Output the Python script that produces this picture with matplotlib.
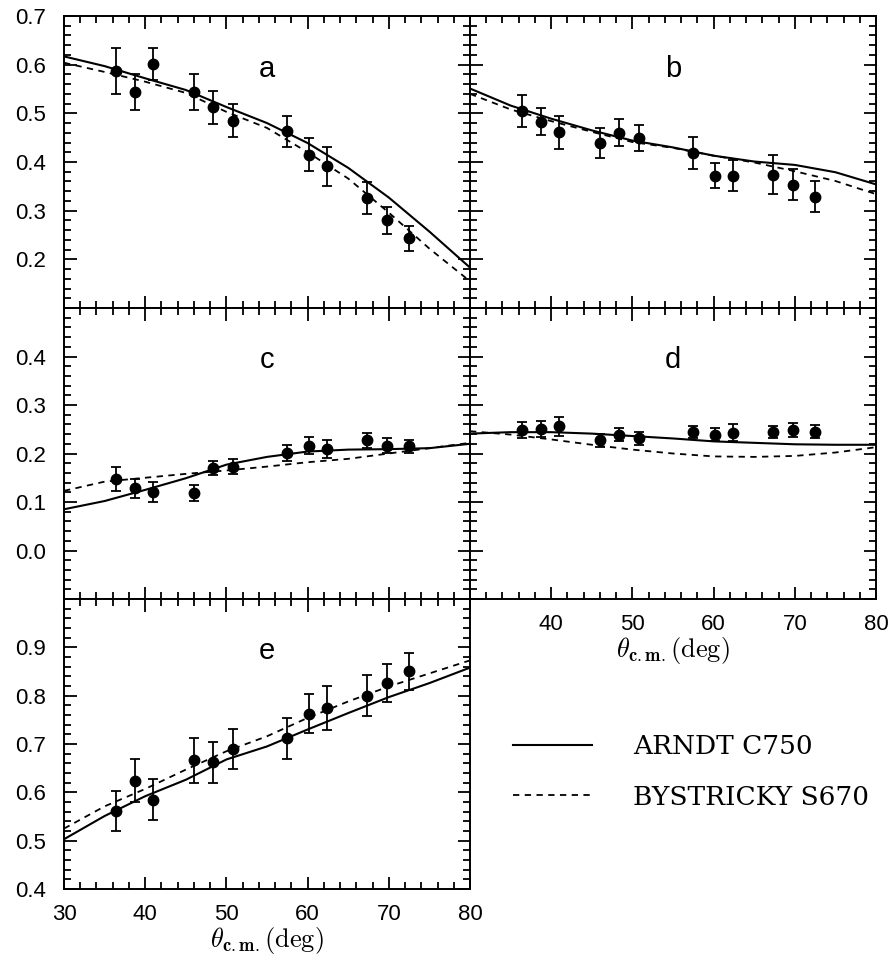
import matplotlib
matplotlib.use("Agg")
import matplotlib.pyplot as plt
from matplotlib.ticker import MultipleLocator, FixedLocator, NullFormatter

plt.rcParams['mathtext.fontset'] = 'cm'

# scattering angle of the data points (same for all panels)
theta = [36.4, 38.8, 41.0, 46.0, 48.4, 50.8, 57.5, 60.2, 62.4, 67.3, 69.8, 72.5]

# measured values and errors
a_val = [0.587, 0.544, 0.601, 0.544, 0.512, 0.485, 0.463, 0.415, 0.391, 0.326, 0.280, 0.243]
a_err = [0.047, 0.037, 0.033, 0.037, 0.033, 0.034, 0.032, 0.034, 0.040, 0.033, 0.028, 0.025]
b_val = [0.504, 0.483, 0.461, 0.439, 0.460, 0.449, 0.418, 0.372, 0.372, 0.374, 0.353, 0.329]
b_err = [0.033, 0.028, 0.034, 0.031, 0.028, 0.027, 0.033, 0.025, 0.032, 0.040, 0.032, 0.032]
c_val = [0.148, 0.128, 0.121, 0.119, 0.170, 0.173, 0.201, 0.216, 0.209, 0.227, 0.216, 0.215]
c_err = [0.025, 0.020, 0.020, 0.016, 0.015, 0.016, 0.016, 0.017, 0.018, 0.016, 0.015, 0.013]
d_val = [0.248, 0.251, 0.256, 0.227, 0.239, 0.231, 0.244, 0.239, 0.243, 0.244, 0.248, 0.245]
d_err = [0.017, 0.016, 0.019, 0.013, 0.013, 0.013, 0.013, 0.013, 0.017, 0.013, 0.014, 0.014]
e_val = [0.561, 0.624, 0.585, 0.666, 0.662, 0.690, 0.712, 0.763, 0.774, 0.800, 0.826, 0.850]
e_err = [0.041, 0.045, 0.043, 0.047, 0.043, 0.041, 0.042, 0.041, 0.045, 0.042, 0.040, 0.038]

# phase shift predictions, sampled every 5 deg
theta_pred = [30, 35, 40, 45, 50, 55, 60, 65, 70, 75, 80]
a_arndt = [0.617, 0.597, 0.572, 0.548, 0.513, 0.480, 0.439, 0.388, 0.327, 0.257, 0.183]
a_byst = [0.604, 0.585, 0.565, 0.542, 0.503, 0.470, 0.420, 0.366, 0.296, 0.222, 0.155]
b_arndt = [0.551, 0.516, 0.489, 0.465, 0.444, 0.430, 0.413, 0.401, 0.394, 0.379, 0.354]
b_byst = [0.540, 0.508, 0.484, 0.462, 0.441, 0.429, 0.413, 0.399, 0.381, 0.361, 0.334]
c_arndt = [0.085, 0.102, 0.125, 0.149, 0.177, 0.193, 0.204, 0.208, 0.209, 0.211, 0.220]
c_byst = [0.123, 0.142, 0.150, 0.158, 0.165, 0.173, 0.182, 0.189, 0.200, 0.211, 0.222]
d_arndt = [0.241, 0.244, 0.244, 0.241, 0.236, 0.231, 0.225, 0.222, 0.219, 0.218, 0.218]
d_byst = [0.246, 0.239, 0.229, 0.218, 0.208, 0.200, 0.194, 0.193, 0.195, 0.202, 0.213]
e_arndt = [0.503, 0.551, 0.592, 0.626, 0.668, 0.695, 0.730, 0.764, 0.797, 0.826, 0.858]
e_byst = [0.525, 0.571, 0.607, 0.647, 0.685, 0.716, 0.754, 0.788, 0.819, 0.846, 0.873]

panel_names = ['a', 'b', 'c', 'd', 'e']
labels = ['ARNDT C750', 'BYSTRICKY S670']

sans = 'Liberation Sans'
serif = 'DejaVu Serif'

fig = plt.figure(figsize=(8.92, 9.55), dpi=100)

W, H = 892, 955
def box(l, t, r, b):
    return [l / W, 1 - b / H, (r - l) / W, (b - t) / H]

boxes = [box(64, 16, 470, 308), box(470, 16, 876, 308),
         box(64, 308, 470, 599), box(470, 308, 876, 599),
         box(64, 599, 470, 889)]
ylims = [(0.1, 0.7), (0.1, 0.7), (-0.1, 0.5), (-0.1, 0.5), (0.4, 1.0)]
yticks = [[0.2, 0.3, 0.4, 0.5, 0.6, 0.7], None,
          [0.0, 0.1, 0.2, 0.3, 0.4], None,
          [0.4, 0.5, 0.6, 0.7, 0.8, 0.9]]
vals = [a_val, b_val, c_val, d_val, e_val]
errs = [a_err, b_err, c_err, d_err, e_err]
arndt = [a_arndt, b_arndt, c_arndt, d_arndt, e_arndt]
byst = [a_byst, b_byst, c_byst, d_byst, e_byst]

handles = []
for i in range(5):
    ax = fig.add_axes(boxes[i])
    ax.errorbar(theta, vals[i], yerr=errs[i], fmt='o', color='black', ms=7.5,
                capsize=3.5, elinewidth=1.3, capthick=1.3, zorder=3)
    l1, = ax.plot(theta_pred, arndt[i], color='black', lw=1.5, label=labels[0])
    l2, = ax.plot(theta_pred, byst[i], color='black', lw=1.3, ls=(0, (3.5, 3)),
                  label=labels[1])
    handles = [l1, l2]
    ax.set_xlim(30, 80)
    ax.set_ylim(*ylims[i])
    ax.xaxis.set_major_locator(MultipleLocator(10))
    ax.xaxis.set_minor_locator(MultipleLocator(2))
    ax.yaxis.set_major_locator(MultipleLocator(0.1))
    ax.yaxis.set_minor_locator(MultipleLocator(0.02))
    ax.tick_params(which='both', direction='in', top=True, right=True, width=1.3)
    ax.tick_params(which='major', length=9)
    ax.tick_params(which='minor', length=5)
    ax.tick_params(axis='y', labelsize=16, pad=13)
    ax.tick_params(axis='x', labelsize=16, pad=11)
    for s in ax.spines.values():
        s.set_linewidth(1.4)
    if yticks[i] is not None:
        ax.yaxis.set_major_locator(FixedLocator(yticks[i]))
        ax.set_yticklabels(['%.1f' % v for v in yticks[i]], fontfamily=sans)
    else:
        ax.yaxis.set_major_formatter(NullFormatter())
    if i == 4:
        xt = [30, 40, 50, 60, 70, 80]
        ax.xaxis.set_major_locator(FixedLocator(xt))
        ax.set_xticklabels([str(v) for v in xt], fontfamily=sans)
    elif i == 3:
        xt = [40, 50, 60, 70, 80]
        ax.xaxis.set_major_locator(FixedLocator([30] + xt))
        ax.set_xticklabels([''] + [str(v) for v in xt], fontfamily=sans)
    else:
        ax.xaxis.set_major_formatter(NullFormatter())
    if i >= 3:
        ax.set_xlabel(r'$\theta_{\mathbf{c.m.}}\mathrm{(deg)}$', fontsize=19, labelpad=0)
    ax.text(0.5, 0.82, panel_names[i], transform=ax.transAxes, ha='center', va='center',
            fontsize=21, fontfamily=sans)

fig.legend(handles, labels, loc='center left', bbox_to_anchor=(513 / W, 1 - 772 / H),
           frameon=False, borderpad=0, borderaxespad=0, handlelength=3.0,
           handletextpad=1.55, labelspacing=0.95, prop={'family': serif, 'size': 19})

fig.savefig('out.png', dpi=100)
